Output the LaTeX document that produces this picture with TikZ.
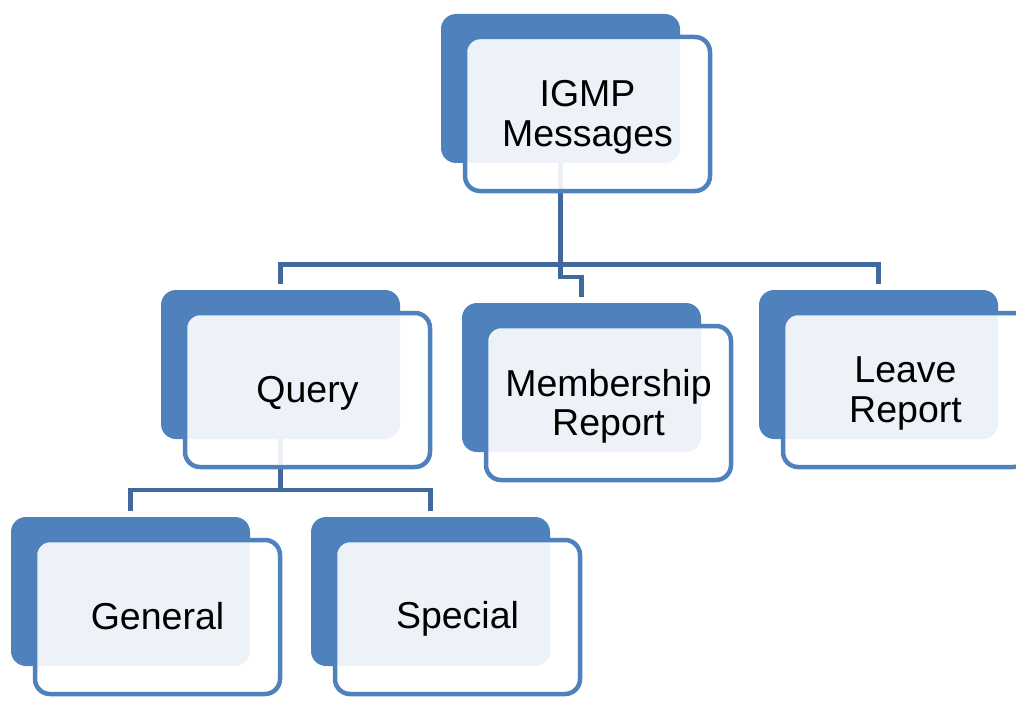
\documentclass[tikz,border=0pt]{standalone}
\usepackage{fontspec}
\setmainfont{Liberation Sans}
\definecolor{boxblue}{HTML}{4F81BD}
\definecolor{linkblue}{HTML}{41699C}
\tikzset{
  backbox/.style={rectangle, rounded corners=15pt, fill=boxblue, draw=none,
    minimum width=239pt, minimum height=149pt, inner sep=0pt, outer sep=0pt},
  frontbox/.style={rectangle, rounded corners=15pt, draw=boxblue, line width=4.5pt,
    fill=white, fill opacity=0.9,
    minimum width=245pt, minimum height=154pt, inner sep=0pt, outer sep=0pt},
  cardtext/.style={inner sep=0pt, text=black, align=center,
    font=\fontsize{37.5}{39.5}\selectfont},
  link/.style={draw=linkblue, line width=4.5pt}
}
\begin{document}
\begin{tikzpicture}[x=1pt,y=-1pt]
\useasboundingbox (0,0) rectangle (1016,714);
\clip (0,0) rectangle (1016,714);
% bus levels of the tree
\coordinate (bus) at (0,264.5);
\coordinate (jog) at (0,277);
\coordinate (sub) at (0,490);
% back panels (centre = top-left + (119.5,74.5))
\node[backbox] (igmpB)    at (560.5,88.5)  {};
\node[backbox] (queryB)   at (280.5,364.5) {};
\node[backbox] (memberB)  at (581.5,377.5) {};
\node[backbox] (leaveB)   at (878.5,364.5) {};
\node[backbox] (generalB) at (130.5,591.5) {};
\node[backbox] (specialB) at (430.5,591.5) {};
% connectors, drawn beneath the front cards
\draw[link] ([yshift=6pt]queryB.north) -- (queryB.north |- bus)
  -- (leaveB.north |- bus) -- ([yshift=6pt]leaveB.north);
\draw[link] (igmpB.south) -- (igmpB.south |- jog)
  -- (memberB.north |- jog) -- ([yshift=6pt]memberB.north);
\draw[link] (queryB.south) -- (queryB.south |- sub);
\draw[link] ([yshift=6pt]generalB.north) -- (generalB.north |- sub)
  -- (specialB.north |- sub) -- ([yshift=6pt]specialB.north);
% front cards (centre = top-left + (146.5,100))
\node[frontbox] (igmp)    at (587.5,114) {};
\node[frontbox] (query)   at (307.5,390) {};
\node[frontbox] (member)  at (608.5,403) {};
\node[frontbox] (leave)   at (905.5,390) {};
\node[frontbox] (general) at (157.5,617) {};
\node[frontbox] (special) at (457.5,617) {};
% labels, set slightly below the card centres
\node[cardtext] (igmpT)    at ([yshift=-3.5pt]igmp.center)    {IGMP\\Messages};
\node[cardtext] (queryT)   at ([yshift=-3pt]query.center)     {Query};
\node[cardtext] (memberT)  at ([yshift=-3.5pt]member.center)  {Membership\\Report};
\node[cardtext] (leaveT)   at ([yshift=-3.5pt]leave.center)   {Leave\\Report};
\node[cardtext] (generalT) at ([yshift=1pt]general.center)    {General};
\node[cardtext] (specialT) at ([yshift=-2pt]special.center)   {Special};
\end{tikzpicture}
\end{document}
